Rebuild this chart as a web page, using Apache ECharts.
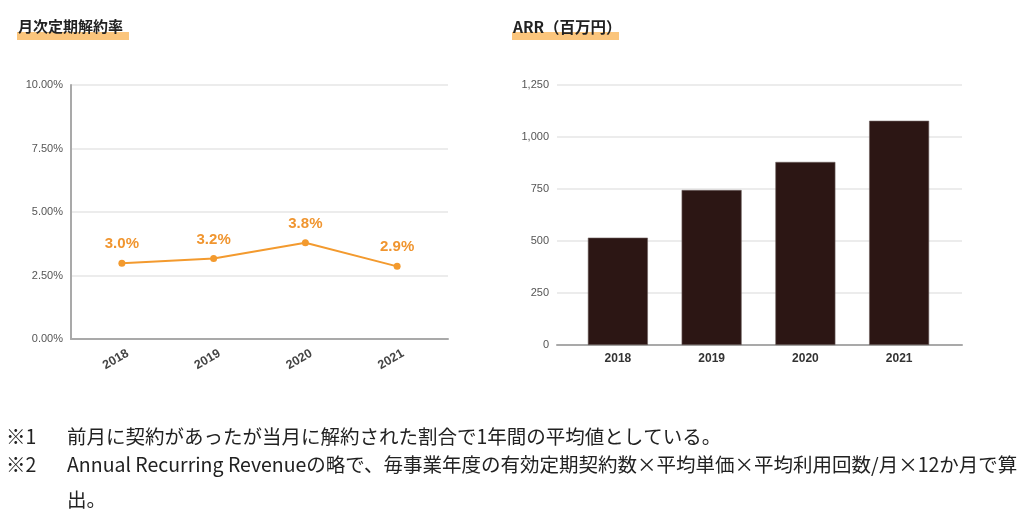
<!DOCTYPE html>
<html>
<head>
<meta charset="utf-8">
<script src="https://cdn.jsdelivr.net/npm/echarts@6/dist/echarts.min.js"></script>
<style>
html,body{margin:0;padding:0;background:#fff;}
#chart{width:1022px;height:516px;}
</style>
</head>
<body>
<div id="chart"></div>
<script>
// ---- data ----
const years = ['2018', '2019', '2020', '2021'];
const churnRate = [2.98, 3.17, 3.79, 2.86];      // 月次定期解約率 (%)
const arrValues = [516, 745, 880, 1078];         // ARR (百万円)
const churnTitle = '月次定期解約率';
const arrTitle = 'ARR（百万円）';
const noteMarks = ['※1', '※2'];
const noteLines = [
  '前月に契約があったが当月に解約された割合で1年間の平均値としている。',
  'Annual Recurring Revenueの略で、毎事業年度の有効定期契約数×平均単価×平均利用回数/月×12か月で算',
  '出。'
];

const sans = '"Liberation Sans", Arial, sans-serif';
const jp = '"Noto Sans CJK JP", sans-serif';
const gridLineColor = '#e6e6e6';
const axisGray = '#a9a9a9';
const orange = '#f39a2e';
const noteFont = '19.5px ' + jp;

const chart = echarts.init(document.getElementById('chart'), null, {renderer: 'canvas'});

const option = {
  backgroundColor: '#ffffff',
  animation: false,
  grid: [
    {left: 71, top: 85, width: 377, height: 254},   // left axes
    {left: 76, top: 85, width: 367, height: 254},   // left data
    {left: 557, top: 85, width: 405, height: 260},  // right axes
    {left: 571, top: 85, width: 375, height: 260}   // right data
  ],
  xAxis: [
    {gridIndex: 0, type: 'category', data: years, boundaryGap: true,
     axisLine: {show: true, lineStyle: {color: axisGray, width: 2}},
     axisTick: {show: false}, axisLabel: {show: false}, splitLine: {show: false}},
    {gridIndex: 1, type: 'category', data: years, boundaryGap: true,
     axisLine: {show: false}, axisTick: {show: false}, splitLine: {show: false},
     axisLabel: {show: true, rotate: 30, align: 'center', margin: 17,
                 padding: [0, 14, 0, 0],
                 color: '#444', fontSize: 12.5, fontWeight: 'bold', fontFamily: sans}},
    {gridIndex: 2, type: 'category', data: years, boundaryGap: true,
     axisLine: {show: true, lineStyle: {color: axisGray, width: 2}},
     axisTick: {show: false}, axisLabel: {show: false}, splitLine: {show: false}},
    {gridIndex: 3, type: 'category', data: years, boundaryGap: true,
     axisLine: {show: false}, axisTick: {show: false}, splitLine: {show: false},
     axisLabel: {show: true, margin: 8, color: '#333', fontSize: 12,
                 fontWeight: 'bold', fontFamily: sans}}
  ],
  yAxis: [
    {gridIndex: 0, type: 'value', min: 0, max: 10, interval: 2.5,
     axisLine: {show: true, lineStyle: {color: axisGray, width: 2}},
     axisTick: {show: false},
     splitLine: {show: true, lineStyle: {color: gridLineColor, width: 1.5}},
     axisLabel: {margin: 8, color: '#555', fontSize: 11, fontFamily: sans,
                 formatter: v => v.toFixed(2) + '%'}},
    {gridIndex: 1, type: 'value', min: 0, max: 10, show: false, splitLine: {show: false}},
    {gridIndex: 2, type: 'value', min: 0, max: 1250, interval: 250,
     axisLine: {show: false}, axisTick: {show: false},
     splitLine: {show: true, lineStyle: {color: gridLineColor, width: 1.5}},
     axisLabel: {margin: 8, color: '#555', fontSize: 11, fontFamily: sans,
                 formatter: v => v.toLocaleString('en-US')}},
    {gridIndex: 3, type: 'value', min: 0, max: 1250, show: false, splitLine: {show: false}}
  ],
  series: [
    {type: 'line', xAxisIndex: 1, yAxisIndex: 1, data: churnRate,
     symbol: 'circle', symbolSize: 7,
     lineStyle: {color: orange, width: 2},
     itemStyle: {color: orange},
     label: {show: true, position: 'top', distance: 8, color: '#f0952f',
             fontSize: 15, fontWeight: 'bold', fontFamily: sans,
             formatter: p => p.value.toFixed(1) + '%'}},
    {type: 'bar', xAxisIndex: 3, yAxisIndex: 3, data: arrValues, barWidth: 60,
     itemStyle: {color: '#2c1614', borderColor: '#6e6260', borderWidth: 0.6}}
  ],
  graphic: [
    {type: 'rect', left: 17, top: 32, shape: {width: 112, height: 8},
     style: {fill: '#fbc57c'}, z: 1},
    {type: 'text', left: 18, top: 19, z: 2,
     style: {text: churnTitle, font: 'bold 15px ' + jp, fill: '#222'}},
    {type: 'rect', left: 512, top: 32, shape: {width: 107, height: 8},
     style: {fill: '#fbc57c'}, z: 1},
    {type: 'text', left: 513, top: 19, z: 2,
     style: {text: arrTitle, font: 'bold 15.5px ' + jp, fill: '#222'}},
    {type: 'text', left: 6, top: 427,
     style: {text: noteMarks[0], font: noteFont, fill: '#222'}},
    {type: 'text', left: 67, top: 427,
     style: {text: noteLines[0], font: noteFont, fill: '#222'}},
    {type: 'text', left: 6, top: 455,
     style: {text: noteMarks[1], font: noteFont, fill: '#222'}},
    {type: 'text', left: 67, top: 455,
     style: {text: noteLines[1], font: noteFont, fill: '#222'}},
    {type: 'text', left: 67, top: 490,
     style: {text: noteLines[2], font: noteFont, fill: '#222'}}
  ]
};
chart.setOption(option);
</script>
</body>
</html>
